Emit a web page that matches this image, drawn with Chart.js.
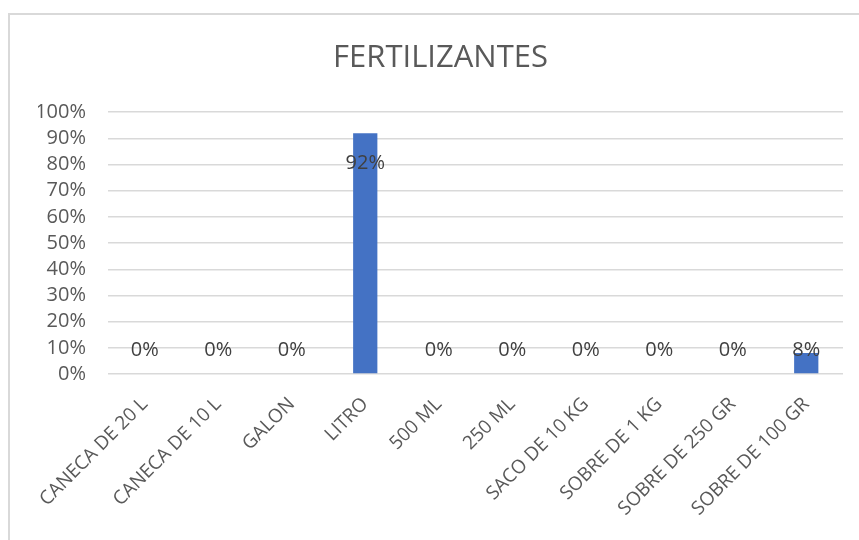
<!DOCTYPE html>
<html>
<head>
<meta charset="utf-8">
<script src="https://cdn.jsdelivr.net/npm/chart.js@4"></script>
<style>
  html, body { margin: 0; padding: 0; background: #fff; }
  #wrap { position: relative; width: 859px; height: 540px; overflow: hidden; }
  #frame { position: absolute; left: 8px; top: 13px; width: 900px; height: 600px;
           border-top: 2px solid #d9d9d9; border-left: 2px solid #d9d9d9; }
  canvas { position: absolute; left: 0; top: 0; }
</style>
</head>
<body>
<div id="wrap">
  <div id="frame"></div>
  <canvas id="chart" width="859" height="540"></canvas>
</div>
<script>
const categories = ['CANECA DE 20 L', 'CANECA DE 10 L', 'GALON', 'LITRO', '500 ML',
                    '250 ML', 'SACO DE 10 KG', 'SOBRE DE 1 KG', 'SOBRE DE 250 GR', 'SOBRE DE 100 GR'];
const percentages = [0, 0, 0, 92, 0, 0, 0, 0, 0, 8];
const yTicks = [0, 10, 20, 30, 40, 50, 60, 70, 80, 90, 100];

const FONT = '"Open Sans", "Liberation Sans", sans-serif';

// draws the % labels near the top of each bar, like Excel "inside end"
const barLabels = {
    id: 'barLabels',
    afterDatasetsDraw(chart) {
        const ctx = chart.ctx;
        const meta = chart.getDatasetMeta(0);
        const base = chart.scales.y.getPixelForValue(0);
        ctx.save();
        ctx.font = '20px ' + FONT;
        ctx.fillStyle = '#404040';
        ctx.textAlign = 'center';
        ctx.textBaseline = 'middle';
        meta.data.forEach((bar, i) => {
            const y = Math.min(bar.y + 30, base - 24);
            ctx.fillText(percentages[i] + '%', bar.x, y);
        });
        ctx.restore();
    }
};

new Chart(document.getElementById('chart'), {
    type: 'bar',
    data: {
        labels: categories,
        datasets: [{
            data: percentages,
            backgroundColor: '#4472C4',
            barPercentage: 0.33,
            categoryPercentage: 1
        }]
    },
    options: {
        responsive: false,
        animation: false,
        layout: { padding: { left: 38, right: 16, top: 0, bottom: 0 } },
        plugins: {
            legend: { display: false },
            tooltip: { enabled: false },
            title: {
                display: true,
                text: 'FERTILIZANTES',
                color: '#595959',
                font: { family: FONT, size: 31, weight: 'normal' },
                padding: { top: 40, bottom: 35 }
            }
        },
        scales: {
            y: {
                min: 0,
                max: 100,
                afterFit(scale) { scale.width = 70; },
                afterBuildTicks(scale) { scale.ticks = yTicks.map(v => ({ value: v })); },
                border: { display: false },
                grid: { color: '#d9d9d9', lineWidth: 1.5, drawTicks: false },
                ticks: {
                    autoSkip: false,
                    padding: 22,
                    color: '#595959',
                    font: { family: FONT, size: 20 },
                    callback: v => v + '%'
                }
            },
            x: {
                afterFit(scale) { scale.height = 166; },
                border: { display: false },
                grid: { display: false },
                ticks: {
                    autoSkip: false,
                    minRotation: 45,
                    maxRotation: 45,
                    padding: 11,
                    color: '#595959',
                    font: { family: FONT, size: 19 }
                }
            }
        }
    },
    plugins: [barLabels]
});
</script>
</body>
</html>
